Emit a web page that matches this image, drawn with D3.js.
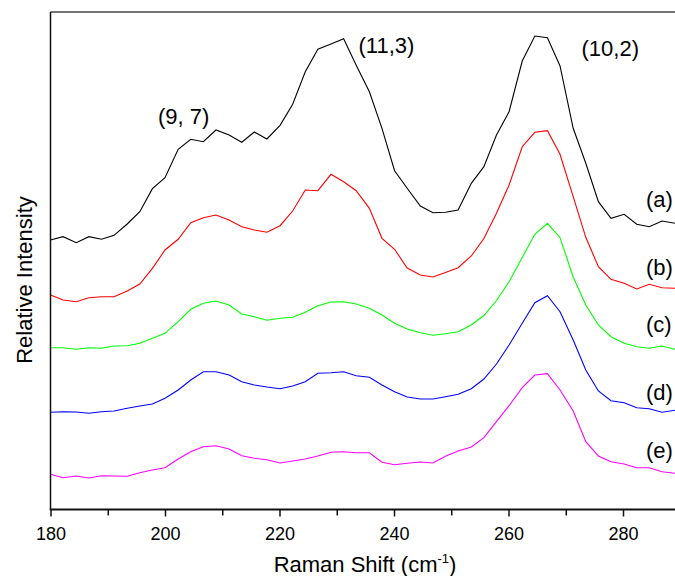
<!DOCTYPE html>
<html>
<head>
<meta charset="utf-8">
<script src="https://cdn.jsdelivr.net/npm/d3@7"></script>
<style>
  html, body { margin: 0; padding: 0; background: #fff; }
  svg { display: block; font-family: Arial, "Liberation Sans", sans-serif; }
</style>
</head>
<body>
<svg id="chart" width="675" height="576"></svg>
<script>
// Raman shift (cm^-1) sampling positions
const shifts = [180.0,182.2,184.5,186.7,188.9,191.1,193.4,195.6,197.8,200.0,
  202.3,204.5,206.7,208.9,211.2,213.4,215.6,217.8,220.1,222.3,
  224.5,226.7,229.0,231.2,233.4,235.7,237.9,240.1,242.3,244.6,
  246.8,249.0,251.2,253.5,255.7,257.9,260.1,262.4,264.6,266.8,
  269.0,271.3,273.5,275.7,277.9,280.2,282.4,284.6,286.8,289.1];

// Relative intensities (offset spectra, arbitrary units)
const seriesA = [270,273.3,267.3,273.3,270.7,274.7,286,298.3,321.3,332.3,
  360.7,370.7,368.3,380,375,367.7,378,371,384.7,405.7,
  438.3,460.7,466,471.3,444.7,418.3,381.7,339.3,321.7,304,
  297.3,297.7,300,326.7,343.3,375,398.3,449,474,472.3,
  444,381.7,346.7,308.3,291.7,295.7,285.7,283.3,289,286.7];
const seriesB = [215,210,208.3,212.3,213.3,213.3,219,226,241.7,260,
  270.7,287.3,292.3,295,290,283.3,280,277.7,284.3,299,
  320,319.3,335.7,328.3,319.3,301.7,271.7,260.7,242,235,
  233,237.6,242.3,254,271.5,296.7,325,363.3,377.7,379.3,
  355.7,313.3,272.7,243.3,230.7,226.7,221,225.7,222.3,221.7];
const seriesC = [162.3,162.3,160.7,162.3,161.7,164,164.3,166.7,171.7,176.7,
  188.3,200.7,206.7,209,205,196,193.3,189.7,191.7,192.7,
  197.7,204.3,208,208.3,206,201.7,195,186.7,181,177.3,
  174.7,176.3,178.3,185,194.5,209.5,228.3,252.5,275.7,286.7,
  272.3,233,205,185,173.3,166.7,163.3,161.7,164,160.7];
const seriesD = [97.7,98.3,98,96.7,98.3,99,101.7,104,106,111.7,
  120,130,138.3,138.3,135,128.3,125,123,121.3,124,
  128.3,136.7,137.3,138.3,134.3,132.7,125,118.3,113,111,
  111,113.3,115.7,121.3,131,146,165,186.7,207.3,214.3,
  198.3,170,140,119,109.3,107.3,102.3,101.3,97.7,99.7];
const seriesE = [35.7,32.3,34,32,34.3,34,33.7,37.3,40,42.3,
  51,58.3,63.3,64.3,61,54.3,51.7,50.3,47,49,
  51,54,57.7,58.3,57.3,57.3,47.7,45.3,46.7,48,
  47,53.7,59,63,72.3,88.3,104.3,122.3,135,136.3,
  120,99,68.3,54,48.3,46,42.3,42.3,38.3,36.7];

const seriesNames = ["(a)","(b)","(c)","(d)","(e)"];
const seriesColors = ["#000000","#ff0000","#00ff00","#0000ff","#ff00ff"];
const seriesData = [seriesA, seriesB, seriesC, seriesD, seriesE];
const seriesLabelY = [206.5, 274.5, 332, 400, 458]; // label baselines (px)

const xTicksMajor = [180,200,220,240,260,280];
const xTicksMinor = [190,210,230,250,270,290];

const peakLabels = ["(9, 7)", "(11,3)", "(10,2)"];
const peakLabelX = [158, 358.5, 581.5];
const peakLabelY = [124, 53, 56];

const W = 675, H = 576;
const mLeft = 50.5, mTop = 12, mBottom = 509.5;
const x = d3.scaleLinear().domain([180, 290]).range([mLeft, mLeft + 110 * 5.725]);
const y = d3.scaleLinear().domain([0, 498]).range([510, 12]);

const svg = d3.select("#chart");

svg.append("clipPath").attr("id", "clip")
  .append("rect").attr("x", mLeft).attr("y", mTop).attr("width", W - mLeft).attr("height", mBottom - mTop);

// curves
const line = d3.line().x((d, i) => x(shifts[i])).y(d => y(d));
const gLines = svg.append("g").attr("clip-path", "url(#clip)");
seriesData.forEach((s, k) => {
  gLines.append("path").datum(s)
    .attr("d", line)
    .attr("fill", "none")
    .attr("stroke", seriesColors[k])
    .attr("stroke-width", 1.1)
    .attr("stroke-linejoin", "miter");
});

// frame: top and left lines
svg.append("line").attr("x1", mLeft).attr("x2", W).attr("y1", mTop).attr("y2", mTop)
  .attr("stroke", "#444").attr("stroke-width", 1.5);
svg.append("line").attr("x1", mLeft).attr("x2", mLeft).attr("y1", mTop).attr("y2", mBottom)
  .attr("stroke", "#111").attr("stroke-width", 1.5);

// bottom axis
const gx = svg.append("g").attr("transform", `translate(0,${mBottom})`);
gx.call(d3.axisBottom(x).tickValues(xTicksMinor).tickSize(6).tickFormat(""))
  .call(g => g.select(".domain").remove());
gx.append("g").call(d3.axisBottom(x).tickValues(xTicksMajor).tickSize(7).tickFormat(d3.format("d")))
  .call(g => g.select(".domain").remove())
  .call(g => g.selectAll("text").attr("y", 30.5).attr("dy", null)
    .attr("font-size", 18).attr("font-family", "Arial, 'Liberation Sans', sans-serif").attr("fill", "#000"));
gx.selectAll(".tick line").attr("stroke", "#111").attr("stroke-width", 1.5);
gx.append("line").attr("x1", mLeft - 0.75).attr("x2", W).attr("y1", 0).attr("y2", 0)
  .attr("stroke", "#111").attr("stroke-width", 2);

// axis titles
const xt = svg.append("text").attr("x", 365).attr("y", 571.5).attr("text-anchor", "middle")
  .attr("font-size", 22).attr("fill", "#000");
xt.append("tspan").text("Raman Shift (cm");
xt.append("tspan").attr("font-size", 13).attr("dy", -9).text("-1");
xt.append("tspan").attr("dy", 9).text(")");

svg.append("text").attr("transform", "translate(31.5,280) rotate(-90)")
  .attr("text-anchor", "middle").attr("font-size", 22).attr("fill", "#000")
  .text("Relative Intensity");

// peak annotations
peakLabels.forEach((t, i) => {
  svg.append("text").attr("x", peakLabelX[i]).attr("y", peakLabelY[i])
    .attr("font-size", 22).attr("fill", "#000").text(t);
});

// series labels
seriesNames.forEach((t, i) => {
  svg.append("text").attr("x", 646).attr("y", seriesLabelY[i])
    .attr("font-size", 22).attr("fill", "#000").text(t);
});
</script>
</body>
</html>
